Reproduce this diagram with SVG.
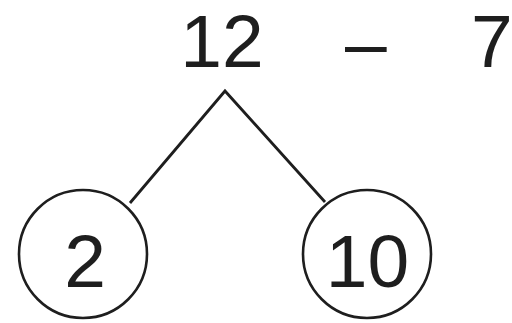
<svg xmlns="http://www.w3.org/2000/svg" width="512" height="323" viewBox="0 0 512 323">
<style>
text{font-family:"Liberation Sans",Arial,sans-serif;font-size:75px;fill:#1e1e1e}
.c{fill:none;stroke:#1e1e1e;stroke-width:2.6}
.l{fill:none;stroke:#1e1e1e;stroke-width:2.8;stroke-linejoin:miter}
</style>
<rect width="512" height="323" fill="#fff"/>
<g id="expr">
<text x="222" y="67" text-anchor="middle">12</text>
<text x="345" y="68">–</text>
<text x="471" y="67">7</text>
</g>
<g id="connectors">
<polyline class="l" points="130,203 225,91 325,202"/>
</g>
<g id="node-2">
<circle class="c" cx="83" cy="254" r="64"/>
<text x="85" y="287" text-anchor="middle">2</text>
</g>
<g id="node-10">
<circle class="c" cx="367" cy="254" r="64"/>
<text x="367.5" y="287" text-anchor="middle">10</text>
</g>
</svg>
